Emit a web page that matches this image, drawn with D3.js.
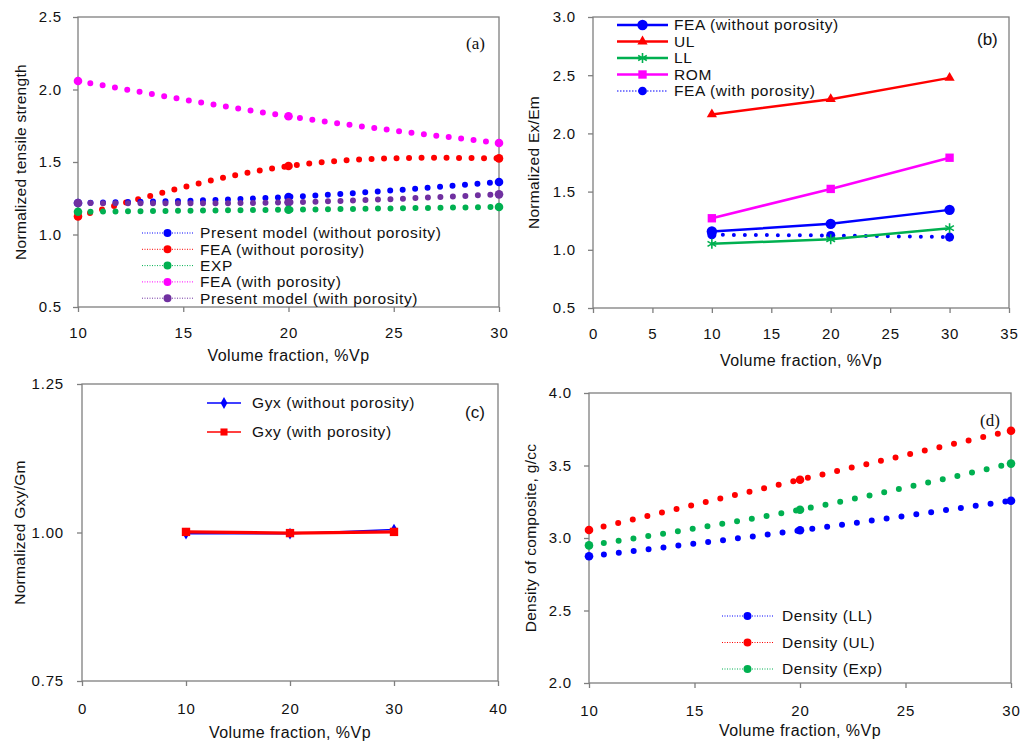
<!DOCTYPE html>
<html>
<head>
<meta charset="utf-8">
<script src="https://cdn.jsdelivr.net/npm/d3@7"></script>
<style>
  body { margin: 0; background: #fff; }
  text { font-family: "Liberation Sans", Arial, sans-serif; fill: #111; }
</style>
</head>
<body>
<svg id="chart" width="1021" height="742"></svg>
<script>
// ---- data ----
var volFraction = [10, 20, 30];

// (a) normalized tensile strength
var presentNoPor = [1.217, 1.259, 1.362];
var feaNoPorA = [1.125, 1.472, 1.525];
var expA = [1.157, 1.171, 1.19];
var feaPorA = [2.059, 1.815, 1.631];
var presentPor = [1.217, 1.222, 1.277];

// (b) normalized Ex/Em
var feaNoPorB = [1.157, 1.223, 1.343];
var ulB = [2.163, 2.294, 2.477];
var llB = [1.051, 1.091, 1.186];
var romB = [1.271, 1.523, 1.791];
var feaPorB = [1.129, 1.123, 1.109];

// (c) normalized Gxy/Gm
var gyx = [0.998, 0.998, 1.005];
var gxy = [1.001, 0.999, 1.001];

// (d) density of composite
var densLL = [2.874, 3.053, 3.257];
var densUL = [3.055, 3.402, 3.740];
var densExp = [2.949, 3.195, 3.513];

var ticksA = [0.5, 1.0, 1.5, 2.0, 2.5];
var ticksB = [0.5, 1.0, 1.5, 2.0, 2.5, 3.0];
var ticksC = [0.75, 1.0, 1.25];
var ticksD = [2.0, 2.5, 3.0, 3.5, 4.0];

var BLUE = "#0000ff", RED = "#ff0000", GREEN = "#00b050", MAGENTA = "#ff00ff", PURPLE = "#7030a0";

var svg = d3.select("#chart");
svg.append("rect").attr("width", 1021).attr("height", 742).attr("fill", "#fff");

// builds the frame, scales and axes of one panel
function makePanel(o) {
  var g = svg.append("g");
  var x = d3.scaleLinear().domain(o.xDomain).range([o.left, o.right]);
  var y = d3.scaleLinear().domain(o.yDomain).range([o.bottom, o.top]);

  g.append("rect")
    .attr("x", o.left).attr("y", o.top)
    .attr("width", o.right - o.left).attr("height", o.bottom - o.top)
    .attr("fill", "none").attr("stroke", "#7f7f7f").attr("stroke-width", 1.3);

  var xa = g.append("g")
    .attr("transform", "translate(0," + o.bottom + ")")
    .call(d3.axisBottom(x).tickValues(o.xTicks).tickSize(5).tickSizeOuter(0).tickPadding(o.xPad).tickFormat(d3.format("d")));
  var ya = g.append("g")
    .attr("transform", "translate(" + o.left + ",0)")
    .call(d3.axisLeft(y).tickValues(o.yTicks).tickSize(5).tickSizeOuter(0).tickPadding(o.yPad).tickFormat(d3.format(o.yFmt)));
  [xa, ya].forEach(function(a) {
    a.select(".domain").remove();
    a.selectAll("line").attr("stroke", "#7f7f7f").attr("stroke-width", 1.3);
    a.selectAll("text").style("font-size", "15px").style("letter-spacing", "0.8px").attr("fill", "#111");
  });

  g.append("text")
    .attr("x", (o.left + o.right) / 2).attr("y", o.xTitleY)
    .attr("text-anchor", "middle").style("font-size", "16px").style("letter-spacing", "0.45px")
    .text("Volume fraction, %Vp");
  g.append("text")
    .attr("transform", "translate(" + o.yTitleX + "," + ((o.top + o.bottom) / 2) + ") rotate(-90)")
    .attr("text-anchor", "middle").attr("dy", "0.35em")
    .style("font-size", "15.5px").style("letter-spacing", "0.3px")
    .text(o.yTitle);

  g.append("text")
    .attr("x", o.tagX).attr("y", o.tagY).attr("dy", "0.35em")
    .style("font-size", "17px")
    .style("font-family", o.tagSerif ? "'Liberation Serif', 'Times New Roman', serif" : null)
    .text(o.tag);

  return { g: g, x: x, y: y };
}

// Excel-like thick round-dot line with markers at the data points
function dottedSeries(p, vals, color, gap) {
  var line = d3.line().curve(d3.curveNatural)
    .x(function(d, i) { return p.x(volFraction[i]); })
    .y(function(d) { return p.y(d); });
  p.g.append("path").datum(vals)
    .attr("d", line).attr("fill", "none").attr("stroke", color)
    .attr("stroke-width", 6).attr("stroke-linecap", "round")
    .attr("stroke-dasharray", "0 " + gap);
  p.g.selectAll(null).data(vals).enter().append("circle")
    .attr("cx", function(d, i) { return p.x(volFraction[i]); })
    .attr("cy", function(d) { return p.y(d); })
    .attr("r", 4.3).attr("fill", color);
}

function solidSeries(p, vals, color, width, symbol, size, dash) {
  var line = d3.line()
    .x(function(d, i) { return p.x(volFraction[i]); })
    .y(function(d) { return p.y(d); });
  var path = p.g.append("path").datum(vals)
    .attr("d", line).attr("fill", "none").attr("stroke", color)
    .attr("stroke-width", width);
  if (dash) path.attr("stroke-dasharray", dash).attr("stroke-linecap", "round");
  p.g.selectAll(null).data(vals).enter().append("path")
    .attr("transform", function(d, i) { return "translate(" + p.x(volFraction[i]) + "," + p.y(d) + ")"; })
    .attr("d", d3.symbol().type(symbol).size(size))
    .attr("fill", symbol === d3.symbolAsterisk ? "none" : color)
    .attr("stroke", symbol === d3.symbolAsterisk ? color : "none")
    .attr("stroke-width", 1.6);
}

function legendRow(p, x0, x1, yy, textX, label, color, opt) {
  p.g.append("line")
    .attr("x1", x0).attr("x2", x1).attr("y1", yy).attr("y2", yy)
    .attr("stroke", color).attr("stroke-width", opt.width)
    .attr("stroke-dasharray", opt.dash || null);
  p.g.append("path")
    .attr("transform", "translate(" + ((x0 + x1) / 2) + "," + yy + ")")
    .attr("d", d3.symbol().type(opt.symbol).size(opt.size))
    .attr("fill", opt.symbol === d3.symbolAsterisk ? "none" : color)
    .attr("stroke", opt.symbol === d3.symbolAsterisk ? color : "none")
    .attr("stroke-width", 1.6);
  p.g.append("text")
    .attr("x", textX).attr("y", yy).attr("dy", "0.35em")
    .style("font-size", "15.5px").style("letter-spacing", "0.6px").text(label);
}

// ---- (a) ----
var pa = makePanel({
  left: 78, right: 499, top: 17, bottom: 307,
  xDomain: [10, 30], xTicks: [10, 15, 20, 25, 30], xPad: 15,
  yDomain: [0.5, 2.5], yTicks: ticksA, yFmt: ".1f", yPad: 11,
  xTitleY: 361, yTitleX: 21, yTitle: "Normalized tensile strength",
  tag: "(a)", tagX: 466, tagY: 43, tagSerif: true
});
dottedSeries(pa, feaPorA, MAGENTA, 12.5);
dottedSeries(pa, feaNoPorA, RED, 12.5);
dottedSeries(pa, presentNoPor, BLUE, 12.5);
dottedSeries(pa, presentPor, PURPLE, 12.5);
dottedSeries(pa, expA, GREEN, 12.5);
var legA = [
  ["Present model (without porosity)", BLUE],
  ["FEA (without porosity)", RED],
  ["EXP", GREEN],
  ["FEA (with porosity)", MAGENTA],
  ["Present model (with porosity)", PURPLE]
];
legA.forEach(function(r, i) {
  legendRow(pa, 142, 193, 233 + i * 16.3, 200, r[0], r[1],
    { width: 1, dash: "1 1.5", symbol: d3.symbolCircle, size: 50 });
});

// ---- (b) ----
var pb = makePanel({
  left: 593, right: 1009, top: 17, bottom: 308,
  xDomain: [0, 35], xTicks: [0, 5, 10, 15, 20, 25, 30, 35], xPad: 15,
  yDomain: [0.5, 3.0], yTicks: ticksB, yFmt: ".1f", yPad: 12,
  xTitleY: 366, yTitleX: 534, yTitle: "Normalized Ex/Em",
  tag: "(b)", tagX: 977, tagY: 39, tagSerif: false
});
solidSeries(pb, ulB, RED, 2.5, d3.symbolTriangle, 45);
solidSeries(pb, romB, MAGENTA, 2.5, d3.symbolSquare, 70);
solidSeries(pb, feaNoPorB, BLUE, 2.5, d3.symbolCircle, 85);
solidSeries(pb, feaPorB, BLUE, 4, d3.symbolCircle, 65, "0 11");
solidSeries(pb, llB, GREEN, 2.5, d3.symbolAsterisk, 70);
var legB = [
  ["FEA (without porosity)", BLUE, { width: 2.5, symbol: d3.symbolCircle, size: 85 }],
  ["UL", RED, { width: 2.5, symbol: d3.symbolTriangle, size: 45 }],
  ["LL", GREEN, { width: 2.5, symbol: d3.symbolAsterisk, size: 70 }],
  ["ROM", MAGENTA, { width: 2.5, symbol: d3.symbolSquare, size: 70 }],
  ["FEA (with porosity)", BLUE, { width: 1.2, dash: "1.5 1.5", symbol: d3.symbolCircle, size: 60 }]
];
legB.forEach(function(r, i) {
  legendRow(pb, 617, 668, 25 + i * 16.5, 674, r[0], r[1], r[2]);
});

// ---- (c) ----
var pc = makePanel({
  left: 82, right: 498, top: 384, bottom: 681,
  xDomain: [0, 40], xTicks: [0, 10, 20, 30, 40], xPad: 17,
  yDomain: [0.75, 1.25], yTicks: ticksC, yFmt: ".2f", yPad: 13,
  xTitleY: 738, yTitleX: 20, yTitle: "Normalized Gxy/Gm",
  tag: "(c)", tagX: 465, tagY: 412, tagSerif: false
});
solidSeries(pc, gyx, BLUE, 1.5, d3.symbolDiamond, 40);
solidSeries(pc, gxy, RED, 3.2, d3.symbolSquare, 70);
legendRow(pc, 207, 241, 403, 252, "Gyx (without porosity)", BLUE, { width: 1.5, symbol: d3.symbolDiamond, size: 40 });
legendRow(pc, 207, 241, 432, 252, "Gxy (with porosity)", RED, { width: 1.5, symbol: d3.symbolSquare, size: 50 });

// ---- (d) ----
var pd = makePanel({
  left: 589, right: 1011, top: 393, bottom: 683,
  xDomain: [10, 30], xTicks: [10, 15, 20, 25, 30], xPad: 17,
  yDomain: [2.0, 4.0], yTicks: ticksD, yFmt: ".1f", yPad: 12,
  xTitleY: 736, yTitleX: 531, yTitle: "Density of composite, g/cc",
  tag: "(d)", tagX: 980, tagY: 420, tagSerif: true
});
dottedSeries(pd, densUL, RED, 15);
dottedSeries(pd, densExp, GREEN, 15);
dottedSeries(pd, densLL, BLUE, 15);
var legD = [["Density (LL)", BLUE], ["Density (UL)", RED], ["Density (Exp)", GREEN]];
legD.forEach(function(r, i) {
  legendRow(pd, 722, 773, 616 + i * 26.5, 782, r[0], r[1],
    { width: 1, dash: "1 1.5", symbol: d3.symbolCircle, size: 50 });
});
</script>
</body>
</html>
